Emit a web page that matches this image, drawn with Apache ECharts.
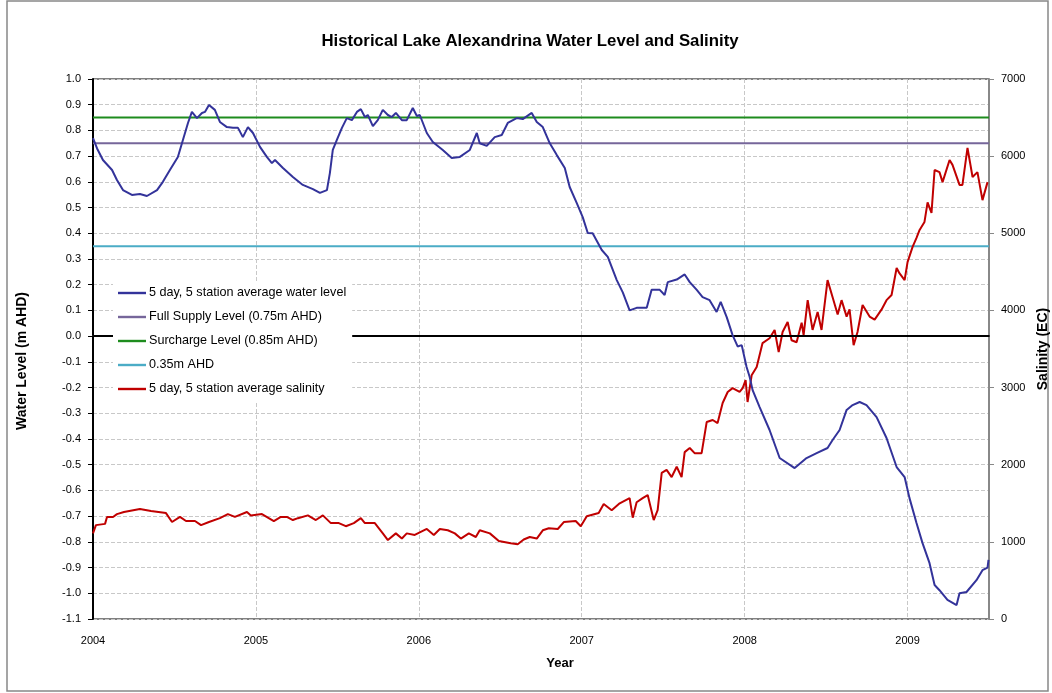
<!DOCTYPE html>
<html lang="en">
<head>
    <meta charset="UTF-8">
    <title>Lake Alexandrina</title>
    <script src="https://cdn.jsdelivr.net/npm/echarts@6/dist/echarts.min.js"></script>
    <style>
        body { margin: 0; background: #fff; }
        .box { width: 1052px; height: 693px; }
    </style>
</head>
<body>
<div class="box"></div>
<script>
// water level, decimal year / m AHD
var levelYears = [2004.000, 2004.025, 2004.061, 2004.117, 2004.147, 2004.184, 2004.239, 2004.288, 2004.331, 2004.393,
    2004.429, 2004.472, 2004.521, 2004.552, 2004.583, 2004.607, 2004.638, 2004.669, 2004.687, 2004.712,
    2004.748, 2004.779, 2004.822, 2004.859, 2004.890, 2004.920, 2004.951, 2004.982, 2005.025, 2005.067,
    2005.098, 2005.117, 2005.166, 2005.227, 2005.288, 2005.350, 2005.393, 2005.436, 2005.454, 2005.472,
    2005.497, 2005.528, 2005.558, 2005.589, 2005.620, 2005.644, 2005.669, 2005.687, 2005.718, 2005.748,
    2005.779, 2005.810, 2005.834, 2005.859, 2005.896, 2005.926, 2005.963, 2005.988, 2006.006, 2006.049,
    2006.086, 2006.147, 2006.202, 2006.252, 2006.313, 2006.356, 2006.374, 2006.417, 2006.466, 2006.509,
    2006.546, 2006.601, 2006.638, 2006.693, 2006.724, 2006.761, 2006.804, 2006.847, 2006.896, 2006.926,
    2006.969, 2007.006, 2007.037, 2007.067, 2007.123, 2007.160, 2007.215, 2007.252, 2007.294, 2007.337,
    2007.399, 2007.429, 2007.479, 2007.509, 2007.528, 2007.583, 2007.632, 2007.663, 2007.706, 2007.742,
    2007.785, 2007.828, 2007.853, 2007.890, 2007.926, 2007.957, 2007.982, 2008.012, 2008.031, 2008.049,
    2008.092, 2008.153, 2008.215, 2008.307, 2008.380, 2008.442, 2008.509, 2008.540, 2008.583, 2008.626,
    2008.663, 2008.706, 2008.748, 2008.810, 2008.871, 2008.933, 2008.982, 2009.012, 2009.055, 2009.092,
    2009.135, 2009.166, 2009.196, 2009.245, 2009.301, 2009.319, 2009.362, 2009.423, 2009.460, 2009.491, 2009.497];
var levelValues = [0.77, 0.73, 0.685, 0.646, 0.607, 0.568, 0.549, 0.553, 0.545, 0.568,
    0.60, 0.646, 0.697, 0.763, 0.829, 0.872, 0.848, 0.868, 0.872, 0.899,
    0.88, 0.833, 0.813, 0.81, 0.81, 0.774, 0.813, 0.79, 0.736, 0.697,
    0.673, 0.685, 0.654, 0.619, 0.588, 0.572, 0.557, 0.568, 0.634, 0.724,
    0.763, 0.81, 0.848, 0.84, 0.872, 0.883, 0.852, 0.86, 0.817, 0.84,
    0.88, 0.86, 0.852, 0.868, 0.84, 0.84, 0.887, 0.856, 0.86, 0.79,
    0.755, 0.724, 0.693, 0.697, 0.724, 0.79, 0.75, 0.74, 0.774, 0.782,
    0.829, 0.848, 0.844, 0.868, 0.833, 0.813, 0.75, 0.704, 0.654, 0.58,
    0.518, 0.463, 0.401, 0.40, 0.335, 0.308, 0.218, 0.17, 0.10, 0.11,
    0.11, 0.18, 0.18, 0.16, 0.21, 0.22, 0.24, 0.21, 0.18, 0.152,
    0.14, 0.094, 0.133, 0.074, 0.004, -0.04, -0.035, -0.12, -0.159, -0.21,
    -0.276, -0.365, -0.474, -0.513, -0.474, -0.455, -0.435, -0.404, -0.365, -0.287,
    -0.268, -0.256, -0.268, -0.315, -0.396, -0.509, -0.548, -0.63, -0.727, -0.805,
    -0.883, -0.968, -0.988, -1.026, -1.046, -1.0, -0.995, -0.949, -0.91, -0.9, -0.87];

// salinity, decimal year / EC
var salYears = [2004.000, 2004.018, 2004.074, 2004.086, 2004.123, 2004.147, 2004.190, 2004.288, 2004.356, 2004.448,
    2004.485, 2004.534, 2004.571, 2004.626, 2004.663, 2004.712, 2004.779, 2004.828, 2004.871, 2004.945,
    2004.969, 2005.037, 2005.110, 2005.153, 2005.190, 2005.227, 2005.258, 2005.319, 2005.368, 2005.411,
    2005.460, 2005.509, 2005.552, 2005.601, 2005.644, 2005.669, 2005.730, 2005.779, 2005.810, 2005.859,
    2005.896, 2005.926, 2005.975, 2006.049, 2006.092, 2006.129, 2006.178, 2006.221, 2006.258, 2006.307,
    2006.350, 2006.374, 2006.436, 2006.491, 2006.564, 2006.607, 2006.644, 2006.681, 2006.724, 2006.761,
    2006.798, 2006.853, 2006.890, 2006.963, 2006.994, 2007.031, 2007.104, 2007.135, 2007.184, 2007.233,
    2007.294, 2007.313, 2007.337, 2007.374, 2007.405, 2007.442, 2007.466, 2007.491, 2007.521, 2007.552,
    2007.583, 2007.613, 2007.632, 2007.663, 2007.693, 2007.736, 2007.767, 2007.804, 2007.834, 2007.865,
    2007.896, 2007.926, 2007.969, 2007.988, 2008.006, 2008.018, 2008.043, 2008.074, 2008.110, 2008.153,
    2008.184, 2008.209, 2008.233, 2008.264, 2008.288, 2008.319, 2008.350, 2008.362, 2008.387, 2008.417,
    2008.448, 2008.472, 2008.509, 2008.540, 2008.571, 2008.595, 2008.626, 2008.644, 2008.669, 2008.693,
    2008.724, 2008.767, 2008.798, 2008.840, 2008.871, 2008.902, 2008.933, 2008.951, 2008.982, 2009.000,
    2009.031, 2009.055, 2009.074, 2009.104, 2009.123, 2009.147, 2009.166, 2009.196, 2009.215, 2009.258,
    2009.276, 2009.319, 2009.337, 2009.368, 2009.399, 2009.429, 2009.460, 2009.491];
var salValues = [1111, 1217, 1233, 1323, 1323, 1360, 1387, 1427, 1400, 1373,
    1257, 1323, 1270, 1270, 1217, 1257, 1307, 1360, 1323, 1387,
    1343, 1360, 1270, 1323, 1323, 1283, 1307, 1343, 1283, 1343,
    1243, 1243, 1203, 1243, 1307, 1243, 1243, 1110, 1023, 1110,
    1043, 1110, 1090, 1167, 1090, 1167, 1150, 1110, 1043, 1110,
    1063, 1150, 1110, 1010, 983, 970, 1030, 1063, 1043, 1150,
    1177, 1167, 1257, 1270, 1203, 1333, 1373, 1490, 1410, 1500,
    1567, 1313, 1513, 1567, 1607, 1283, 1410, 1893, 1933, 1840,
    1973, 1840, 2163, 2217, 2150, 2150, 2553, 2580, 2540, 2800,
    2943, 2993, 2943, 2993, 3097, 2813, 3160, 3267, 3577, 3640,
    3747, 3460, 3720, 3850, 3613, 3587, 3840, 3680, 4133, 3747,
    3980, 3747, 4393, 4170, 3947, 4133, 3920, 4013, 3550, 3720,
    4070, 3920, 3880, 4010, 4133, 4200, 4550, 4480, 4393, 4627,
    4823, 4940, 5043, 5147, 5400, 5263, 5820, 5793, 5663, 5950,
    5887, 5627, 5627, 6107, 5730, 5793, 5430, 5663];

var startYear = 2004, endYear = 2009.5
var fullSupply = 0.75, surcharge = 0.85, lowLevel = 0.35

function pairs(xs, ys) {
    return xs.map(function (x, i) { return [x, ys[i]] })
}
function flat(v) {
    return [[startYear, v], [endYear, v]]
}

var chart = echarts.init(document.querySelector('.box'))
var font = 'Liberation Sans, Arial, sans-serif'
var lineIcon = 'path://M0,0 L28,0 L28,2.4 L0,2.4 Z'

var option = {
    animation: false,
    textStyle: { fontFamily: font },
    title: {
        text: 'Historical Lake Alexandrina Water Level and Salinity',
        left: 525, top: 28, textAlign: 'center',
        textStyle: { fontSize: 16.8, fontWeight: 'bold', color: '#000', fontFamily: font }
    },
    legend: {
        orient: 'vertical',
        left: 113, top: 281, z: 20,
        backgroundColor: '#fff',
        padding: [5, 6, 5, 5],
        icon: lineIcon,
        itemWidth: 28, itemHeight: 14, itemGap: 10,
        textStyle: { fontSize: 12.6, lineHeight: 14, color: '#000', padding: [0, 0, 0, -2] },
        data: ['5 day, 5 station average water level', 'Full Supply Level (0.75m AHD)',
            'Surcharge Level (0.85m AHD)', '0.35m AHD', '5 day, 5 station average salinity']
    },
    grid: {
        left: 93, right: 63, top: 79, bottom: 74,
        outerBoundsMode: 'none',
        show: true, borderColor: '#000', borderWidth: 1
    },
    xAxis: {
        type: 'value', min: startYear, max: endYear, interval: 1,
        name: 'Year', nameLocation: 'middle', nameGap: 38,
        nameTextStyle: { fontSize: 13, fontWeight: 'bold', color: '#000', padding: [0, 0, 0, 38] },
        axisLine: { lineStyle: { color: '#222', width: 2 } },
        axisTick: { show: false },
        axisLabel: {
            fontSize: 11, color: '#000', margin: 16,
            formatter: function (v) { return v % 1 === 0 ? String(v) : '' }
        },
        splitLine: { show: true, lineStyle: { color: '#c8c8c8', type: 'dashed' } }
    },
    yAxis: [{
        type: 'value', min: -1.1, max: 1.0, interval: 0.1,
        name: 'Water Level (m AHD)', nameLocation: 'middle', nameGap: 64,
        nameTextStyle: { fontSize: 14, fontWeight: 'bold', color: '#000', padding: [0, 24, 0, 0] },
        axisLine: { show: true, lineStyle: { color: '#000', width: 2 } },
        axisTick: { show: true, length: 5, lineStyle: { color: '#000' } },
        axisLabel: { fontSize: 11, color: '#000', margin: 12, formatter: function (v) { return v.toFixed(1) } },
        splitLine: { show: true, lineStyle: { color: '#c8c8c8', type: 'dashed' } }
    }, {
        type: 'value', min: 0, max: 7000, interval: 1000,
        name: 'Salinity (EC)', nameLocation: 'middle', nameGap: 46,
        nameTextStyle: { fontSize: 14, fontWeight: 'bold', color: '#000' },
        axisLine: { show: true, lineStyle: { color: '#888', width: 2 } },
        axisTick: { show: true, length: 5, lineStyle: { color: '#888' } },
        axisLabel: { fontSize: 11, color: '#000', margin: 12, formatter: function (v) { return String(v) } },
        splitLine: { show: false }
    }],
    series: [{
        name: '5 day, 5 station average water level', type: 'line', symbol: 'none',
        lineStyle: { color: '#33339a', width: 2 }, itemStyle: { color: '#33339a' },
        data: pairs(levelYears, levelValues), z: 5,
        markLine: {
            silent: true, symbol: 'none', label: { show: false },
            lineStyle: { color: '#000', width: 2, type: 'solid' },
            data: [{ yAxis: 0 }]
        }
    }, {
        name: 'Full Supply Level (0.75m AHD)', type: 'line', symbol: 'none',
        lineStyle: { color: '#76669a', width: 2 }, itemStyle: { color: '#76669a' },
        data: flat(fullSupply)
    }, {
        name: 'Surcharge Level (0.85m AHD)', type: 'line', symbol: 'none',
        lineStyle: { color: '#1e8c1e', width: 2 }, itemStyle: { color: '#1e8c1e' },
        data: flat(surcharge)
    }, {
        name: '0.35m AHD', type: 'line', symbol: 'none',
        lineStyle: { color: '#4bacc6', width: 2 }, itemStyle: { color: '#4bacc6' },
        data: flat(lowLevel)
    }, {
        name: '5 day, 5 station average salinity', type: 'line', symbol: 'none', yAxisIndex: 1,
        lineStyle: { color: '#c00000', width: 2 }, itemStyle: { color: '#c00000' },
        data: pairs(salYears, salValues), z: 4
    }],
    graphic: [{
        type: 'rect', shape: { x: 7, y: 1, width: 1041, height: 690 },
        style: { fill: 'none', stroke: '#888', lineWidth: 1.5 }, silent: true, z: -1
    }]
}
chart.setOption(option)
</script>
</body>
</html>
